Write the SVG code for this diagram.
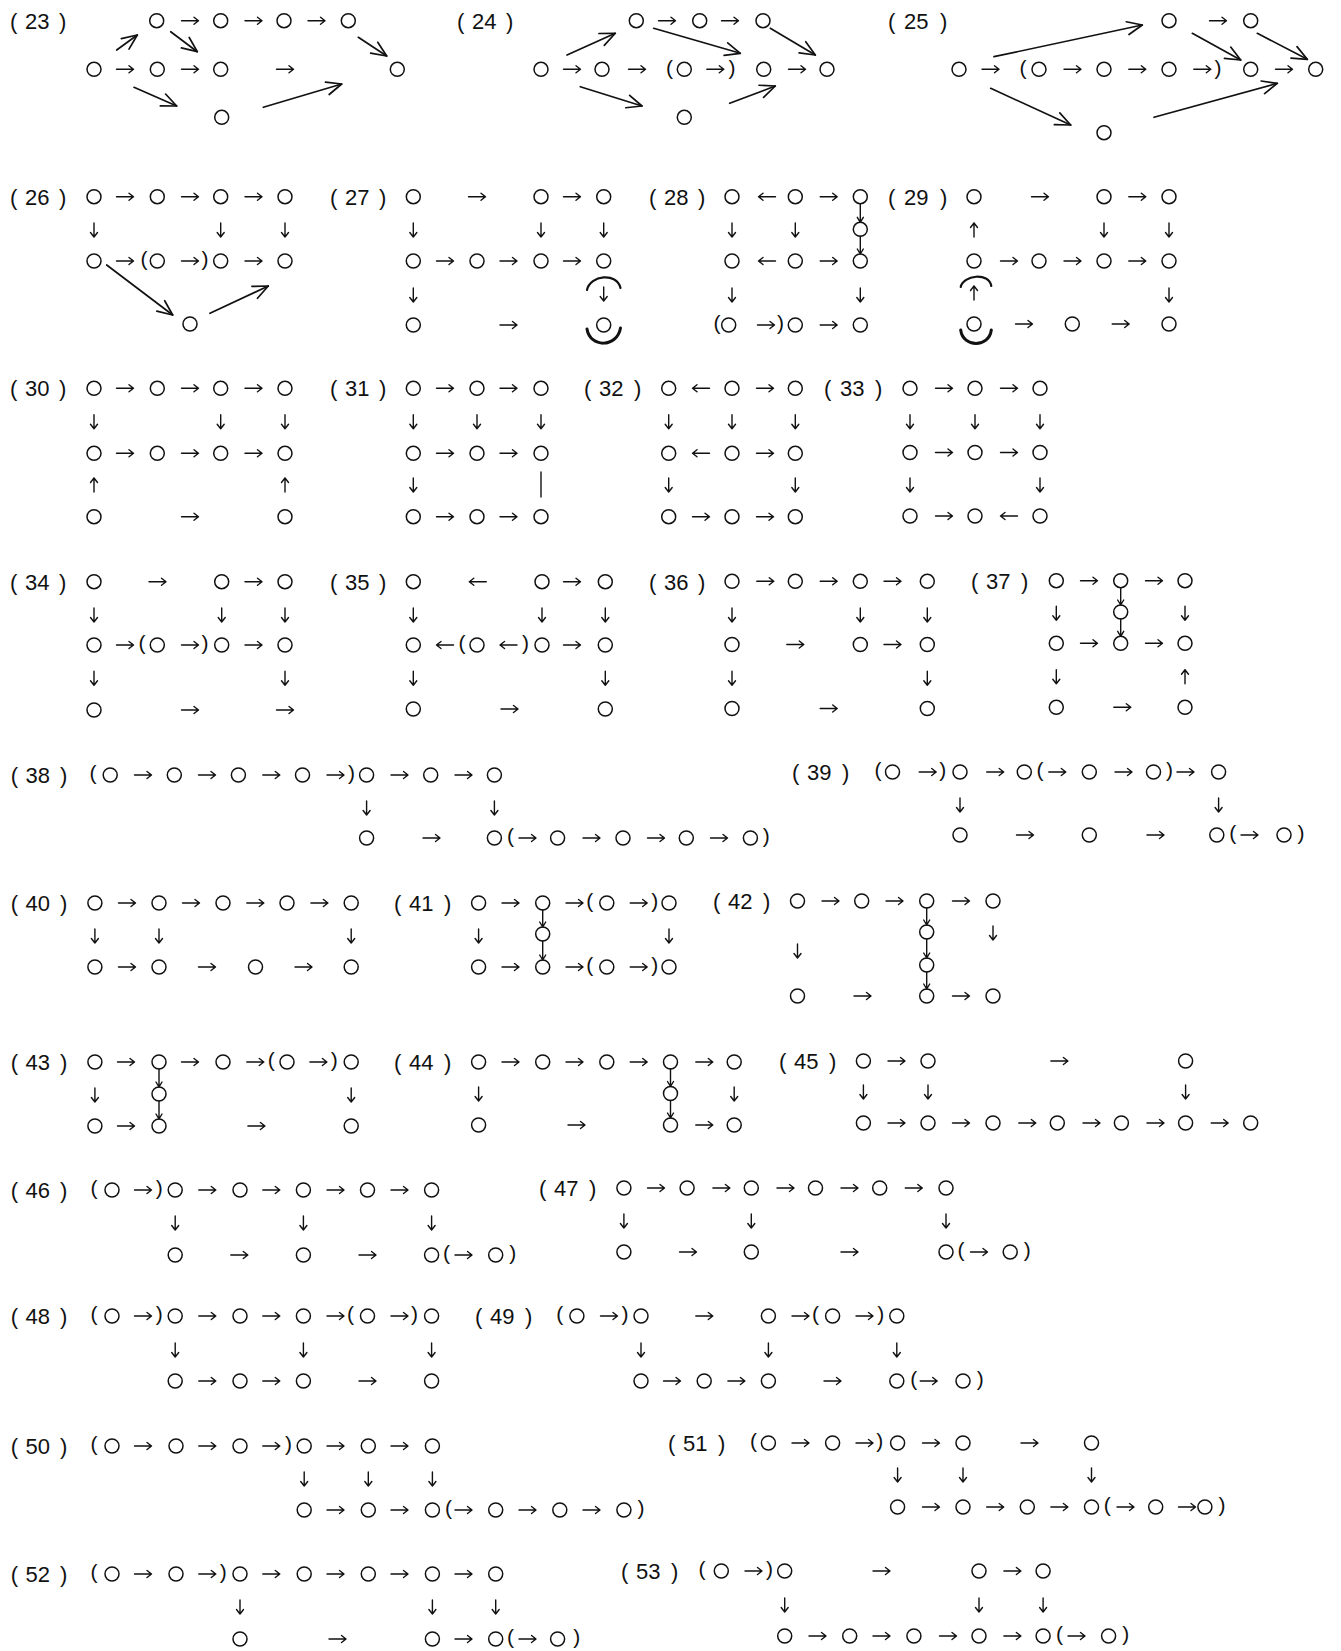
<svg xmlns="http://www.w3.org/2000/svg" width="1341" height="1651" viewBox="0 0 1341 1651">
<style>
text{font-family:"Liberation Sans",Arial,sans-serif;font-size:21px;fill:#111}
.lb{font-size:22px}
.p{text-anchor:middle}
.n{fill:none;stroke:#111;stroke-width:1.5}
.a{fill:none;stroke:#111;stroke-width:1.4;stroke-linecap:round;stroke-linejoin:round}
.lg{fill:none;stroke:#111;stroke-width:1.7;stroke-linecap:round;marker-end:url(#hd)}
.arc{fill:none;stroke:#111;stroke-linecap:round}
</style>
<defs>
<circle id="o" r="7"/>
<path id="r" d="M-8.5,0H8.5M4,-3.5L8.5,0L4,3.5"/>
<path id="l" d="M8.5,0H-8.5M-4,-3.5L-8.5,0L-4,3.5"/>
<path id="d" d="M0,-7V7M-3.5,2.5L0,7L3.5,2.5"/>
<path id="u" d="M0,7V-7M-3.5,-2.5L0,-7L3.5,-2.5"/>
<marker id="hd" markerUnits="userSpaceOnUse" viewBox="-17 -9 19 18" refX="0" refY="0" markerWidth="19" markerHeight="18" orient="auto" overflow="visible">
<path d="M-15,-6.5L0,0L-15,6.5" fill="none" stroke="#111" stroke-width="1.7" stroke-linecap="round" stroke-linejoin="round"/>
</marker>
</defs>
<rect width="1341" height="1651" fill="#fff"/>

<g id="d23">
<text class="lb" y="29"><tspan x="10">(</tspan><tspan x="25">23</tspan><tspan x="59">)</tspan></text>
<g class="n"><use href="#o" x="156.7" y="20.7"/><use href="#o" x="220.7" y="20.7"/><use href="#o" x="284" y="20.7"/><use href="#o" x="348.3" y="20.7"/><use href="#o" x="94" y="69.3"/><use href="#o" x="157.3" y="69.3"/><use href="#o" x="220.7" y="69.3"/><use href="#o" x="397.3" y="69.3"/><use href="#o" x="221.7" y="117.3"/></g>
<g class="a"><use href="#r" x="190" y="20.7"/><use href="#r" x="253.5" y="20.7"/><use href="#r" x="316.5" y="20.7"/><use href="#r" x="125" y="69.3"/><use href="#r" x="190" y="69.3"/><use href="#r" x="285" y="69.3"/></g>
<g class="lg"><path d="M116.7,50L137.3,35"/><path d="M170.7,31.7L197.3,51.7"/><path d="M358.3,37.3L386.7,56"/><path d="M134,87.3L176.7,106"/><path d="M263.3,107.3L341.7,84"/></g>
</g>

<g id="d24">
<text class="lb" y="29"><tspan x="457">(</tspan><tspan x="472">24</tspan><tspan x="506">)</tspan></text>
<g class="n"><use href="#o" x="636.3" y="20.7"/><use href="#o" x="699.7" y="20.7"/><use href="#o" x="763" y="20.7"/><use href="#o" x="541" y="69.3"/><use href="#o" x="602" y="69.3"/><use href="#o" x="684.3" y="69.3"/><use href="#o" x="763.7" y="69.3"/><use href="#o" x="827" y="69.3"/><use href="#o" x="684.3" y="117.3"/></g>
<text class="p" x="669.5" y="74.7">(</text><text class="p" x="732" y="74.7">)</text>
<g class="a"><use href="#r" x="667" y="20.7"/><use href="#r" x="730" y="20.7"/><use href="#r" x="572" y="69.3"/><use href="#r" x="637" y="69.3"/><use href="#r" x="715.3" y="69.3"/><use href="#r" x="797" y="69.3"/></g>
<g class="lg"><path d="M567,55L615.3,33.3"/><path d="M653.7,28.3L740.3,53.3"/><path d="M770.3,28.3L815.3,55"/><path d="M580.3,86.7L642,106"/><path d="M729.7,103.3L775.3,86"/></g>
</g>

<g id="d25">
<text class="lb" y="29"><tspan x="888">(</tspan><tspan x="904">25</tspan><tspan x="940">)</tspan></text>
<g class="n"><use href="#o" x="1169" y="20.7"/><use href="#o" x="1250.7" y="20.7"/><use href="#o" x="959" y="69.3"/><use href="#o" x="1039" y="69.3"/><use href="#o" x="1104" y="69.3"/><use href="#o" x="1169" y="69.3"/><use href="#o" x="1250.7" y="69.3"/><use href="#o" x="1315.7" y="69.3"/><use href="#o" x="1104" y="132.7"/></g>
<text class="p" x="1023" y="74.7">(</text><text class="p" x="1218" y="74.7">)</text>
<g class="a"><use href="#r" x="1218" y="20.7"/><use href="#r" x="990.5" y="69.3"/><use href="#r" x="1072.5" y="69.3"/><use href="#r" x="1137.3" y="69.3"/><use href="#r" x="1202.3" y="69.3"/><use href="#r" x="1284" y="69.3"/></g>
<g class="lg"><path d="M994,56.7L1142.3,25"/><path d="M1192.3,33.3L1240.7,60"/><path d="M1257.3,33.3L1307.3,59.3"/><path d="M990.7,88.3L1070.7,125"/><path d="M1154,117.3L1277.3,83.3"/></g>
</g>

<g id="d26">
<text class="lb" y="204.7"><tspan x="10">(</tspan><tspan x="25">26</tspan><tspan x="59">)</tspan></text>
<g class="n"><use href="#o" x="94" y="196.7"/><use href="#o" x="157.3" y="196.7"/><use href="#o" x="220.7" y="196.7"/><use href="#o" x="285" y="196.7"/><use href="#o" x="94" y="261"/><use href="#o" x="157.3" y="261"/><use href="#o" x="220.7" y="261"/><use href="#o" x="285" y="261"/><use href="#o" x="190" y="324"/></g>
<text class="p" x="144" y="266.4">(</text><text class="p" x="205" y="266.4">)</text>
<g class="a"><use href="#r" x="125" y="196.7"/><use href="#r" x="190" y="196.7"/><use href="#r" x="253.5" y="196.7"/><use href="#d" x="94" y="230"/><use href="#d" x="220.7" y="230"/><use href="#d" x="285" y="230"/><use href="#r" x="125" y="261"/><use href="#r" x="190" y="261"/><use href="#r" x="253.5" y="261"/></g>
<g class="lg"><path d="M106.7,265L172.7,315"/><path d="M210,313.3L268.3,286"/></g>
</g>

<g id="d27">
<text class="lb" y="204.7"><tspan x="330">(</tspan><tspan x="345">27</tspan><tspan x="379">)</tspan></text>
<g class="n"><use href="#o" x="413.3" y="196.7"/><use href="#o" x="541" y="196.7"/><use href="#o" x="603.7" y="196.7"/><use href="#o" x="413.3" y="261"/><use href="#o" x="477" y="261"/><use href="#o" x="541" y="261"/><use href="#o" x="603.7" y="261"/><use href="#o" x="413.3" y="325"/><use href="#o" x="603.7" y="325"/></g>
<g class="a"><use href="#r" x="477" y="196.7"/><use href="#r" x="572" y="196.7"/><use href="#d" x="413.3" y="230"/><use href="#d" x="541" y="230"/><use href="#d" x="603.7" y="230"/><use href="#r" x="445" y="261"/><use href="#r" x="508.5" y="261"/><use href="#r" x="572" y="261"/><use href="#d" x="413.3" y="295"/><use href="#d" x="603.7" y="294"/><use href="#r" x="508.5" y="325"/></g>
<path class="arc" stroke-width="2.2" d="M587,290C590,275 617,272 620.5,288"/>
<path class="arc" stroke-width="3" d="M587,329C590,348 617,348 620.5,328"/>
</g>

<g id="d28">
<text class="lb" y="204.7"><tspan x="649">(</tspan><tspan x="664">28</tspan><tspan x="698">)</tspan></text>
<g class="n"><use href="#o" x="732" y="196.7"/><use href="#o" x="795.3" y="196.7"/><use href="#o" x="860.3" y="196.7"/><use href="#o" x="860.3" y="229.3"/><use href="#o" x="732" y="261"/><use href="#o" x="795.3" y="261"/><use href="#o" x="860.3" y="261"/><use href="#o" x="728.7" y="325"/><use href="#o" x="795.3" y="325"/><use href="#o" x="860.3" y="325"/></g>
<text class="p" x="717" y="330.4">(</text><text class="p" x="780.5" y="330.4">)</text>
<g class="a"><use href="#l" x="767" y="196.7"/><use href="#r" x="828.7" y="196.7"/><use href="#d" x="732" y="230"/><use href="#d" x="795.3" y="230"/><path d="M860.3,203.7V222.3M857.3,217.3L860.3,222.3L863.3,217.3"/><path d="M860.3,236.3V254M857.3,249L860.3,254L863.3,249"/><use href="#l" x="767" y="261"/><use href="#r" x="828.7" y="261"/><use href="#d" x="732" y="295"/><use href="#d" x="860.3" y="295"/><use href="#r" x="766" y="325"/><use href="#r" x="828.7" y="325"/></g>
</g>

<g id="d29">
<text class="lb" y="204.7"><tspan x="888">(</tspan><tspan x="904">29</tspan><tspan x="940">)</tspan></text>
<g class="n"><use href="#o" x="974" y="196.7"/><use href="#o" x="1104" y="196.7"/><use href="#o" x="1169" y="196.7"/><use href="#o" x="974" y="261"/><use href="#o" x="1039" y="261"/><use href="#o" x="1104" y="261"/><use href="#o" x="1169" y="261"/><use href="#o" x="974" y="324"/><use href="#o" x="1072.3" y="324"/><use href="#o" x="1169" y="324"/></g>
<g class="a"><use href="#r" x="1040" y="196.7"/><use href="#r" x="1137.3" y="196.7"/><use href="#u" x="974" y="230"/><use href="#d" x="1104" y="230"/><use href="#d" x="1169" y="230"/><use href="#r" x="1009" y="261"/><use href="#r" x="1072.5" y="261"/><use href="#r" x="1137.3" y="261"/><use href="#u" x="974" y="293"/><use href="#d" x="1169" y="295"/><use href="#r" x="1024" y="324"/><use href="#r" x="1120.7" y="324"/></g>
<path class="arc" stroke-width="2.2" d="M960.7,287C963,275 989,272 991.3,286"/>
<path class="arc" stroke-width="3" d="M960.7,330C963,348 989,348 991.3,330"/>
</g>

<g id="d30">
<text class="lb" y="396.3"><tspan x="10">(</tspan><tspan x="25">30</tspan><tspan x="59">)</tspan></text>
<g class="n"><use href="#o" x="94" y="388.3"/><use href="#o" x="157.3" y="388.3"/><use href="#o" x="220.7" y="388.3"/><use href="#o" x="285" y="388.3"/><use href="#o" x="94" y="453.3"/><use href="#o" x="157.3" y="453.3"/><use href="#o" x="220.7" y="453.3"/><use href="#o" x="285" y="453.3"/><use href="#o" x="94" y="516.7"/><use href="#o" x="285" y="516.7"/></g>
<g class="a"><use href="#r" x="125" y="388.3"/><use href="#r" x="190" y="388.3"/><use href="#r" x="253.5" y="388.3"/><use href="#d" x="94" y="421.7"/><use href="#d" x="220.7" y="421.7"/><use href="#d" x="285" y="421.7"/><use href="#r" x="125" y="453.3"/><use href="#r" x="190" y="453.3"/><use href="#r" x="253.5" y="453.3"/><use href="#u" x="94" y="485"/><use href="#u" x="285" y="485"/><use href="#r" x="190" y="516.7"/></g>
</g>

<g id="d31">
<text class="lb" y="396.3"><tspan x="330">(</tspan><tspan x="345">31</tspan><tspan x="379">)</tspan></text>
<g class="n"><use href="#o" x="413.3" y="388.3"/><use href="#o" x="477" y="388.3"/><use href="#o" x="541" y="388.3"/><use href="#o" x="413.3" y="453.3"/><use href="#o" x="477" y="453.3"/><use href="#o" x="541" y="453.3"/><use href="#o" x="413.3" y="516.7"/><use href="#o" x="477" y="516.7"/><use href="#o" x="541" y="516.7"/></g>
<g class="a"><use href="#r" x="445" y="388.3"/><use href="#r" x="508.5" y="388.3"/><use href="#d" x="413.3" y="421.7"/><use href="#d" x="477" y="421.7"/><use href="#d" x="541" y="421.7"/><use href="#r" x="445" y="453.3"/><use href="#r" x="508.5" y="453.3"/><use href="#d" x="413.3" y="485"/><path d="M541,472V497"/><use href="#r" x="445" y="516.7"/><use href="#r" x="508.5" y="516.7"/></g>
</g>

<g id="d32">
<text class="lb" y="396.3"><tspan x="584">(</tspan><tspan x="599">32</tspan><tspan x="634">)</tspan></text>
<g class="n"><use href="#o" x="668.7" y="388.3"/><use href="#o" x="732" y="388.3"/><use href="#o" x="795.3" y="388.3"/><use href="#o" x="668.7" y="453.3"/><use href="#o" x="732" y="453.3"/><use href="#o" x="795.3" y="453.3"/><use href="#o" x="668.7" y="516.7"/><use href="#o" x="732" y="516.7"/><use href="#o" x="795.3" y="516.7"/></g>
<g class="a"><use href="#l" x="701" y="388.3"/><use href="#r" x="765" y="388.3"/><use href="#d" x="668.7" y="421.7"/><use href="#d" x="732" y="421.7"/><use href="#d" x="795.3" y="421.7"/><use href="#l" x="701" y="453.3"/><use href="#r" x="765" y="453.3"/><use href="#d" x="668.7" y="485"/><use href="#d" x="795.3" y="485"/><use href="#r" x="701" y="516.7"/><use href="#r" x="765" y="516.7"/></g>
</g>

<g id="d33">
<text class="lb" y="396.3"><tspan x="824">(</tspan><tspan x="840">33</tspan><tspan x="875">)</tspan></text>
<g class="n"><use href="#o" x="910" y="388.3"/><use href="#o" x="975" y="388.3"/><use href="#o" x="1040" y="388.3"/><use href="#o" x="910" y="452.5"/><use href="#o" x="975" y="452.5"/><use href="#o" x="1040" y="452.5"/><use href="#o" x="910" y="516"/><use href="#o" x="975" y="516"/><use href="#o" x="1040" y="516"/></g>
<g class="a"><use href="#r" x="944" y="388.3"/><use href="#r" x="1009" y="388.3"/><use href="#d" x="910" y="421.7"/><use href="#d" x="975" y="421.7"/><use href="#d" x="1040" y="421.7"/><use href="#r" x="944" y="452.5"/><use href="#r" x="1009" y="452.5"/><use href="#d" x="910" y="485"/><use href="#d" x="1040" y="485"/><use href="#r" x="944" y="516"/><use href="#l" x="1009" y="516"/></g>
</g>

<g id="d34">
<text class="lb" y="589.5"><tspan x="10">(</tspan><tspan x="25">34</tspan><tspan x="59">)</tspan></text>
<g class="n"><use href="#o" x="94" y="581.7"/><use href="#o" x="221.7" y="581.7"/><use href="#o" x="285" y="581.7"/><use href="#o" x="94" y="645"/><use href="#o" x="157.3" y="645"/><use href="#o" x="221.7" y="645"/><use href="#o" x="285" y="645"/><use href="#o" x="94" y="710"/></g>
<text class="p" x="142" y="650.4">(</text><text class="p" x="205" y="650.4">)</text>
<g class="a"><use href="#r" x="157.5" y="581.7"/><use href="#r" x="253.5" y="581.7"/><use href="#d" x="94" y="615"/><use href="#d" x="221.7" y="615"/><use href="#d" x="285" y="615"/><use href="#r" x="125" y="645"/><use href="#r" x="190" y="645"/><use href="#r" x="253.5" y="645"/><use href="#d" x="94" y="678.3"/><use href="#d" x="285" y="678.3"/><use href="#r" x="190" y="710"/><use href="#r" x="285" y="710"/></g>
</g>

<g id="d35">
<text class="lb" y="589.5"><tspan x="330">(</tspan><tspan x="345">35</tspan><tspan x="379">)</tspan></text>
<g class="n"><use href="#o" x="413.3" y="581.7"/><use href="#o" x="542" y="581.7"/><use href="#o" x="605.3" y="581.7"/><use href="#o" x="413.3" y="645"/><use href="#o" x="477" y="645"/><use href="#o" x="542" y="645"/><use href="#o" x="605.3" y="645"/><use href="#o" x="413.3" y="709"/><use href="#o" x="605.3" y="709"/></g>
<text class="p" x="462" y="650.4">(</text><text class="p" x="525.5" y="650.4">)</text>
<g class="a"><use href="#l" x="477.8" y="581.7"/><use href="#r" x="572" y="581.7"/><use href="#d" x="413.3" y="615"/><use href="#d" x="542" y="615"/><use href="#d" x="605.3" y="615"/><use href="#l" x="445" y="645"/><use href="#l" x="508.5" y="645"/><use href="#r" x="572" y="645"/><use href="#d" x="413.3" y="678.3"/><use href="#d" x="605.3" y="678.3"/><use href="#r" x="509.5" y="709"/></g>
</g>

<g id="d36">
<text class="lb" y="589.5"><tspan x="649">(</tspan><tspan x="664">36</tspan><tspan x="698">)</tspan></text>
<g class="n"><use href="#o" x="732" y="581.3"/><use href="#o" x="795.3" y="581.3"/><use href="#o" x="860.3" y="581.3"/><use href="#o" x="927.3" y="581.3"/><use href="#o" x="732" y="644.5"/><use href="#o" x="860.3" y="644.5"/><use href="#o" x="927.3" y="644.5"/><use href="#o" x="732" y="708.5"/><use href="#o" x="927.3" y="708.5"/></g>
<g class="a"><use href="#r" x="765.3" y="581.3"/><use href="#r" x="828.7" y="581.3"/><use href="#r" x="892.5" y="581.3"/><use href="#d" x="732" y="615"/><use href="#d" x="860.3" y="615"/><use href="#d" x="927.3" y="615"/><use href="#r" x="795.3" y="644.5"/><use href="#r" x="892.5" y="644.5"/><use href="#d" x="732" y="678.3"/><use href="#d" x="927.3" y="678.3"/><use href="#r" x="828.7" y="708.5"/></g>
</g>

<g id="d37">
<text class="lb" y="589"><tspan x="971">(</tspan><tspan x="986">37</tspan><tspan x="1021">)</tspan></text>
<g class="n"><use href="#o" x="1056.3" y="580.7"/><use href="#o" x="1120.7" y="580.7"/><use href="#o" x="1185" y="580.7"/><use href="#o" x="1120.7" y="612"/><use href="#o" x="1056.3" y="643.3"/><use href="#o" x="1120.7" y="643.3"/><use href="#o" x="1185" y="643.3"/><use href="#o" x="1056.3" y="707.3"/><use href="#o" x="1185" y="707.3"/></g>
<g class="a"><use href="#r" x="1089" y="580.7"/><use href="#r" x="1154" y="580.7"/><use href="#d" x="1056.3" y="613.3"/><use href="#d" x="1185" y="613.3"/><path d="M1120.7,587.7V605M1117.7,600L1120.7,605L1123.7,600"/><path d="M1120.7,619V636.3M1117.7,631.3L1120.7,636.3L1123.7,631.3"/><use href="#r" x="1089" y="643.3"/><use href="#r" x="1154" y="643.3"/><use href="#d" x="1056.3" y="676.7"/><use href="#u" x="1185" y="676.7"/><use href="#r" x="1122.3" y="707.3"/></g>
</g>

<g id="d38">
<text class="lb" y="783"><tspan x="10.7">(</tspan><tspan x="25.5">38</tspan><tspan x="60">)</tspan></text>
<g class="n"><use href="#o" x="110.2" y="775"/><use href="#o" x="174.3" y="775"/><use href="#o" x="238.4" y="775"/><use href="#o" x="302.5" y="775"/><use href="#o" x="366.6" y="775"/><use href="#o" x="430.7" y="775"/><use href="#o" x="494.4" y="775"/><use href="#o" x="366.6" y="838"/><use href="#o" x="494.4" y="838"/><use href="#o" x="557.6" y="838"/><use href="#o" x="623" y="838"/><use href="#o" x="686.3" y="838"/><use href="#o" x="750.4" y="838"/></g>
<text class="p" x="93" y="780.4">(</text><text class="p" x="351.5" y="780.4">)</text><text class="p" x="510.5" y="843.4">(</text><text class="p" x="766.3" y="843.4">)</text>
<g class="a"><use href="#r" x="143" y="775"/><use href="#r" x="207" y="775"/><use href="#r" x="271.3" y="775"/><use href="#r" x="335.5" y="775"/><use href="#r" x="399.5" y="775"/><use href="#r" x="463.5" y="775"/><use href="#d" x="366.6" y="808"/><use href="#d" x="494.4" y="808"/><use href="#r" x="431.5" y="838"/><use href="#r" x="527.5" y="838"/><use href="#r" x="591.5" y="838"/><use href="#r" x="656" y="838"/><use href="#r" x="719" y="838"/></g>
</g>

<g id="d39">
<text class="lb" y="780"><tspan x="792">(</tspan><tspan x="807">39</tspan><tspan x="842">)</tspan></text>
<g class="n"><use href="#o" x="892.5" y="772"/><use href="#o" x="960" y="772"/><use href="#o" x="1024.3" y="772"/><use href="#o" x="1089.3" y="772"/><use href="#o" x="1153.5" y="772"/><use href="#o" x="1218.6" y="772"/><use href="#o" x="960" y="835"/><use href="#o" x="1089.3" y="835"/><use href="#o" x="1216.8" y="835"/><use href="#o" x="1284" y="835"/></g>
<text class="p" x="878" y="777.4">(</text><text class="p" x="942.8" y="777.4">)</text><text class="p" x="1040" y="777.4">(</text><text class="p" x="1169.6" y="777.4">)</text><text class="p" x="1232.7" y="840.4">(</text><text class="p" x="1301" y="840.4">)</text>
<g class="a"><use href="#r" x="927.7" y="772"/><use href="#r" x="995.2" y="772"/><use href="#r" x="1057.3" y="772"/><use href="#r" x="1123.5" y="772"/><use href="#r" x="1185.5" y="772"/><use href="#d" x="960" y="805"/><use href="#d" x="1218.6" y="805"/><use href="#r" x="1025" y="835"/><use href="#r" x="1155.5" y="835"/><use href="#r" x="1249.5" y="835"/></g>
</g>

<g id="d40">
<text class="lb" y="911"><tspan x="10.7">(</tspan><tspan x="25.5">40</tspan><tspan x="60">)</tspan></text>
<g class="n"><use href="#o" x="94.9" y="903"/><use href="#o" x="159" y="903"/><use href="#o" x="223" y="903"/><use href="#o" x="287" y="903"/><use href="#o" x="351.2" y="903"/><use href="#o" x="94.9" y="967"/><use href="#o" x="159" y="967"/><use href="#o" x="255.5" y="967"/><use href="#o" x="351.2" y="967"/></g>
<g class="a"><use href="#r" x="127" y="903"/><use href="#r" x="191" y="903"/><use href="#r" x="255.3" y="903"/><use href="#r" x="319.4" y="903"/><use href="#d" x="94.9" y="936"/><use href="#d" x="159" y="936"/><use href="#d" x="351.2" y="936"/><use href="#r" x="127" y="967"/><use href="#r" x="207" y="967"/><use href="#r" x="303.5" y="967"/></g>
</g>

<g id="d41">
<text class="lb" y="911"><tspan x="394">(</tspan><tspan x="409">41</tspan><tspan x="444">)</tspan></text>
<g class="n"><use href="#o" x="478.6" y="903"/><use href="#o" x="542.7" y="903"/><use href="#o" x="606.8" y="903"/><use href="#o" x="669" y="903"/><use href="#o" x="542.7" y="934"/><use href="#o" x="478.6" y="967"/><use href="#o" x="542.7" y="967"/><use href="#o" x="606.8" y="967"/><use href="#o" x="669" y="967"/></g>
<text class="p" x="589.7" y="908.4">(</text><text class="p" x="654.8" y="908.4">)</text><text class="p" x="589.7" y="972.4">(</text><text class="p" x="654.8" y="972.4">)</text>
<g class="a"><use href="#r" x="510.5" y="903"/><use href="#r" x="574.5" y="903"/><use href="#r" x="638.7" y="903"/><path d="M542.7,910V927M539.7,922L542.7,927L545.7,922"/><path d="M542.7,941V960M539.7,955L542.7,960L545.7,955"/><use href="#d" x="478.6" y="936"/><use href="#d" x="669" y="936"/><use href="#r" x="510.5" y="967"/><use href="#r" x="574.5" y="967"/><use href="#r" x="638.7" y="967"/></g>
</g>

<g id="d42">
<text class="lb" y="909"><tspan x="713">(</tspan><tspan x="728">42</tspan><tspan x="763">)</tspan></text>
<g class="n"><use href="#o" x="797.5" y="901"/><use href="#o" x="861.7" y="901"/><use href="#o" x="926.7" y="901"/><use href="#o" x="993" y="901"/><use href="#o" x="926.7" y="932"/><use href="#o" x="926.7" y="965"/><use href="#o" x="797.5" y="996"/><use href="#o" x="926.7" y="996"/><use href="#o" x="993" y="996"/></g>
<g class="a"><use href="#r" x="830.5" y="901"/><use href="#r" x="894.5" y="901"/><use href="#r" x="961" y="901"/><path d="M926.7,908V925M923.7,920L926.7,925L929.7,920"/><path d="M926.7,939V958M923.7,953L926.7,958L929.7,953"/><path d="M926.7,972V989M923.7,984L926.7,989L929.7,984"/><use href="#d" x="993" y="933"/><use href="#d" x="797.5" y="951"/><use href="#r" x="862.5" y="996"/><use href="#r" x="961" y="996"/></g>
</g>

<g id="d43">
<text class="lb" y="1070"><tspan x="10.7">(</tspan><tspan x="25.5">43</tspan><tspan x="60">)</tspan></text>
<g class="n"><use href="#o" x="94.9" y="1062"/><use href="#o" x="159" y="1062"/><use href="#o" x="223" y="1062"/><use href="#o" x="287" y="1062"/><use href="#o" x="351.2" y="1062"/><use href="#o" x="159" y="1094"/><use href="#o" x="94.9" y="1126"/><use href="#o" x="159" y="1126"/><use href="#o" x="351.2" y="1126"/></g>
<text class="p" x="271.3" y="1067.4">(</text><text class="p" x="334.3" y="1067.4">)</text>
<g class="a"><use href="#r" x="126" y="1062"/><use href="#r" x="190" y="1062"/><use href="#r" x="255.3" y="1062"/><use href="#r" x="318.4" y="1062"/><path d="M159,1069V1087M156,1082L159,1087L162,1082"/><path d="M159,1101V1119M156,1114L159,1119L162,1114"/><use href="#d" x="94.9" y="1095"/><use href="#d" x="351.2" y="1095"/><use href="#r" x="126" y="1126"/><use href="#r" x="256.4" y="1126"/></g>
</g>

<g id="d44">
<text class="lb" y="1070"><tspan x="394">(</tspan><tspan x="409">44</tspan><tspan x="444">)</tspan></text>
<g class="n"><use href="#o" x="478.6" y="1062"/><use href="#o" x="542.7" y="1062"/><use href="#o" x="606.8" y="1062"/><use href="#o" x="670.5" y="1062"/><use href="#o" x="734.2" y="1062"/><use href="#o" x="670.5" y="1093.5"/><use href="#o" x="478.6" y="1125"/><use href="#o" x="670.5" y="1125"/><use href="#o" x="734.2" y="1125"/></g>
<g class="a"><use href="#r" x="510.5" y="1062"/><use href="#r" x="574.5" y="1062"/><use href="#r" x="638.7" y="1062"/><use href="#r" x="704.3" y="1062"/><path d="M670.5,1069V1086.5M667.5,1081.5L670.5,1086.5L673.5,1081.5"/><path d="M670.5,1100.5V1118M667.5,1113L670.5,1118L673.5,1113"/><use href="#d" x="478.6" y="1094"/><use href="#d" x="734.2" y="1094"/><use href="#r" x="576.5" y="1125"/><use href="#r" x="704.3" y="1125"/></g>
</g>

<g id="d45">
<text class="lb" y="1069"><tspan x="779">(</tspan><tspan x="794">45</tspan><tspan x="829">)</tspan></text>
<g class="n"><use href="#o" x="863.4" y="1061"/><use href="#o" x="928" y="1061"/><use href="#o" x="1185.6" y="1061"/><use href="#o" x="863.4" y="1123"/><use href="#o" x="928" y="1123"/><use href="#o" x="993" y="1123"/><use href="#o" x="1057.3" y="1123"/><use href="#o" x="1121.4" y="1123"/><use href="#o" x="1185.6" y="1123"/><use href="#o" x="1250.7" y="1123"/></g>
<g class="a"><use href="#r" x="896.5" y="1061"/><use href="#r" x="1059.4" y="1061"/><use href="#d" x="863.4" y="1092"/><use href="#d" x="928" y="1092"/><use href="#d" x="1185.6" y="1092"/><use href="#r" x="896.5" y="1123"/><use href="#r" x="961" y="1123"/><use href="#r" x="1027.3" y="1123"/><use href="#r" x="1091.5" y="1123"/><use href="#r" x="1155.5" y="1123"/><use href="#r" x="1219.7" y="1123"/></g>
</g>

<g id="d46">
<text class="lb" y="1198"><tspan x="10.7">(</tspan><tspan x="25.5">46</tspan><tspan x="60">)</tspan></text>
<g class="n"><use href="#o" x="112" y="1190"/><use href="#o" x="175.2" y="1190"/><use href="#o" x="240" y="1190"/><use href="#o" x="303.4" y="1190"/><use href="#o" x="367.5" y="1190"/><use href="#o" x="431.6" y="1190"/><use href="#o" x="175.2" y="1255"/><use href="#o" x="303.4" y="1255"/><use href="#o" x="431.6" y="1255"/><use href="#o" x="495.7" y="1255"/></g>
<text class="p" x="94" y="1195.4">(</text><text class="p" x="159.2" y="1195.4">)</text><text class="p" x="446.4" y="1260.4">(</text><text class="p" x="512.8" y="1260.4">)</text>
<g class="a"><use href="#r" x="143" y="1190"/><use href="#r" x="207.3" y="1190"/><use href="#r" x="271.3" y="1190"/><use href="#r" x="335.5" y="1190"/><use href="#r" x="399.5" y="1190"/><use href="#d" x="175.2" y="1223"/><use href="#d" x="303.4" y="1223"/><use href="#d" x="431.6" y="1223"/><use href="#r" x="239.3" y="1255"/><use href="#r" x="367.5" y="1255"/><use href="#r" x="463.5" y="1255"/></g>
</g>

<g id="d47">
<text class="lb" y="1196"><tspan x="539">(</tspan><tspan x="554">47</tspan><tspan x="589">)</tspan></text>
<g class="n"><use href="#o" x="623.9" y="1188"/><use href="#o" x="687.1" y="1188"/><use href="#o" x="751.3" y="1188"/><use href="#o" x="815.5" y="1188"/><use href="#o" x="879.7" y="1188"/><use href="#o" x="946" y="1188"/><use href="#o" x="623.9" y="1252"/><use href="#o" x="751.3" y="1252"/><use href="#o" x="946" y="1252"/><use href="#o" x="1010.2" y="1252"/></g>
<text class="p" x="961" y="1257.4">(</text><text class="p" x="1027.3" y="1257.4">)</text>
<g class="a"><use href="#r" x="656" y="1188"/><use href="#r" x="721.4" y="1188"/><use href="#r" x="785.5" y="1188"/><use href="#r" x="849.5" y="1188"/><use href="#r" x="913.8" y="1188"/><use href="#d" x="623.9" y="1221"/><use href="#d" x="751.3" y="1221"/><use href="#d" x="946" y="1221"/><use href="#r" x="688" y="1252"/><use href="#r" x="849.5" y="1252"/><use href="#r" x="979" y="1252"/></g>
</g>

<g id="d48">
<text class="lb" y="1324"><tspan x="10.7">(</tspan><tspan x="25.5">48</tspan><tspan x="60">)</tspan></text>
<g class="n"><use href="#o" x="112" y="1316"/><use href="#o" x="175.2" y="1316"/><use href="#o" x="240" y="1316"/><use href="#o" x="303.4" y="1316"/><use href="#o" x="367.5" y="1316"/><use href="#o" x="431.6" y="1316"/><use href="#o" x="175.2" y="1381"/><use href="#o" x="240" y="1381"/><use href="#o" x="303.4" y="1381"/><use href="#o" x="431.6" y="1381"/></g>
<text class="p" x="94" y="1321.4">(</text><text class="p" x="159.2" y="1321.4">)</text><text class="p" x="350.4" y="1321.4">(</text><text class="p" x="414.4" y="1321.4">)</text>
<g class="a"><use href="#r" x="143" y="1316"/><use href="#r" x="207.3" y="1316"/><use href="#r" x="271.3" y="1316"/><use href="#r" x="335.5" y="1316"/><use href="#r" x="399.5" y="1316"/><use href="#d" x="175.2" y="1350"/><use href="#d" x="303.4" y="1350"/><use href="#d" x="431.6" y="1350"/><use href="#r" x="207.3" y="1381"/><use href="#r" x="271.3" y="1381"/><use href="#r" x="367.5" y="1381"/></g>
</g>

<g id="d49">
<text class="lb" y="1324"><tspan x="475">(</tspan><tspan x="490">49</tspan><tspan x="525">)</tspan></text>
<g class="n"><use href="#o" x="576.9" y="1316"/><use href="#o" x="641" y="1316"/><use href="#o" x="768.4" y="1316"/><use href="#o" x="832.6" y="1316"/><use href="#o" x="896.8" y="1316"/><use href="#o" x="641" y="1381"/><use href="#o" x="704.2" y="1381"/><use href="#o" x="768.4" y="1381"/><use href="#o" x="896.8" y="1381"/><use href="#o" x="963" y="1381"/></g>
<text class="p" x="559.8" y="1321.4">(</text><text class="p" x="624.9" y="1321.4">)</text><text class="p" x="815.4" y="1321.4">(</text><text class="p" x="880.8" y="1321.4">)</text><text class="p" x="913.8" y="1386.4">(</text><text class="p" x="980.3" y="1386.4">)</text>
<g class="a"><use href="#r" x="609" y="1316"/><use href="#r" x="704.3" y="1316"/><use href="#r" x="800.5" y="1316"/><use href="#r" x="864.5" y="1316"/><use href="#d" x="641" y="1350"/><use href="#d" x="768.4" y="1350"/><use href="#d" x="896.8" y="1350"/><use href="#r" x="672" y="1381"/><use href="#r" x="736.4" y="1381"/><use href="#r" x="832.5" y="1381"/><use href="#r" x="928.7" y="1381"/></g>
</g>

<g id="d50">
<text class="lb" y="1454"><tspan x="10.7">(</tspan><tspan x="25.5">50</tspan><tspan x="60">)</tspan></text>
<g class="n"><use href="#o" x="112" y="1446"/><use href="#o" x="176" y="1446"/><use href="#o" x="240" y="1446"/><use href="#o" x="304.2" y="1446"/><use href="#o" x="368.3" y="1446"/><use href="#o" x="432.4" y="1446"/><use href="#o" x="304.2" y="1510"/><use href="#o" x="368.3" y="1510"/><use href="#o" x="432.4" y="1510"/><use href="#o" x="495.7" y="1510"/><use href="#o" x="559.8" y="1510"/><use href="#o" x="623.9" y="1510"/></g>
<text class="p" x="94" y="1451.4">(</text><text class="p" x="288.4" y="1451.4">)</text><text class="p" x="448.5" y="1515.4">(</text><text class="p" x="641" y="1515.4">)</text>
<g class="a"><use href="#r" x="143" y="1446"/><use href="#r" x="207.3" y="1446"/><use href="#r" x="271.3" y="1446"/><use href="#r" x="335.5" y="1446"/><use href="#r" x="399.5" y="1446"/><use href="#d" x="304.2" y="1479"/><use href="#d" x="368.3" y="1479"/><use href="#d" x="432.4" y="1479"/><use href="#r" x="335.5" y="1510"/><use href="#r" x="399.5" y="1510"/><use href="#r" x="463.5" y="1510"/><use href="#r" x="527.5" y="1510"/><use href="#r" x="591.5" y="1510"/></g>
</g>

<g id="d51">
<text class="lb" y="1451"><tspan x="668">(</tspan><tspan x="683">51</tspan><tspan x="718">)</tspan></text>
<g class="n"><use href="#o" x="768.4" y="1443"/><use href="#o" x="832.6" y="1443"/><use href="#o" x="897.6" y="1443"/><use href="#o" x="963" y="1443"/><use href="#o" x="1091.5" y="1443"/><use href="#o" x="897.6" y="1507"/><use href="#o" x="963" y="1507"/><use href="#o" x="1027.3" y="1507"/><use href="#o" x="1091.5" y="1507"/><use href="#o" x="1155.7" y="1507"/><use href="#o" x="1204.9" y="1507"/></g>
<text class="p" x="753.4" y="1448.4">(</text><text class="p" x="879.7" y="1448.4">)</text><text class="p" x="1107.3" y="1512.4">(</text><text class="p" x="1222" y="1512.4">)</text>
<g class="a"><use href="#r" x="800.5" y="1443"/><use href="#r" x="864.5" y="1443"/><use href="#r" x="931" y="1443"/><use href="#r" x="1029.5" y="1443"/><use href="#d" x="897.6" y="1475"/><use href="#d" x="963" y="1475"/><use href="#d" x="1091.5" y="1475"/><use href="#r" x="931" y="1507"/><use href="#r" x="995.2" y="1507"/><use href="#r" x="1059.4" y="1507"/><use href="#r" x="1125.5" y="1507"/><use href="#r" x="1187" y="1507"/></g>
</g>

<g id="d52">
<text class="lb" y="1582"><tspan x="10.7">(</tspan><tspan x="25.5">52</tspan><tspan x="60">)</tspan></text>
<g class="n"><use href="#o" x="112" y="1574"/><use href="#o" x="176" y="1574"/><use href="#o" x="240" y="1574"/><use href="#o" x="304.2" y="1574"/><use href="#o" x="368.3" y="1574"/><use href="#o" x="432.4" y="1574"/><use href="#o" x="495.7" y="1574"/><use href="#o" x="240" y="1639"/><use href="#o" x="432.4" y="1639"/><use href="#o" x="495.7" y="1639"/><use href="#o" x="557.6" y="1639"/></g>
<text class="p" x="94" y="1579.4">(</text><text class="p" x="223.3" y="1579.4">)</text><text class="p" x="510.5" y="1644.4">(</text><text class="p" x="576.8" y="1644.4">)</text>
<g class="a"><use href="#r" x="143" y="1574"/><use href="#r" x="207.3" y="1574"/><use href="#r" x="271.3" y="1574"/><use href="#r" x="335.5" y="1574"/><use href="#r" x="399.5" y="1574"/><use href="#r" x="463.5" y="1574"/><use href="#d" x="240" y="1607"/><use href="#d" x="432.4" y="1607"/><use href="#d" x="495.7" y="1607"/><use href="#r" x="337.5" y="1639"/><use href="#r" x="463.5" y="1639"/><use href="#r" x="527.5" y="1639"/></g>
</g>

<g id="d53">
<text class="lb" y="1579"><tspan x="621">(</tspan><tspan x="636">53</tspan><tspan x="671">)</tspan></text>
<g class="n"><use href="#o" x="721.3" y="1571"/><use href="#o" x="784.7" y="1571"/><use href="#o" x="979" y="1571"/><use href="#o" x="1043.1" y="1571"/><use href="#o" x="784.7" y="1636"/><use href="#o" x="849.7" y="1636"/><use href="#o" x="913.9" y="1636"/><use href="#o" x="979" y="1636"/><use href="#o" x="1043.1" y="1636"/><use href="#o" x="1108.6" y="1636"/></g>
<text class="p" x="702" y="1576.4">(</text><text class="p" x="769.4" y="1576.4">)</text><text class="p" x="1059.4" y="1641.4">(</text><text class="p" x="1125.7" y="1641.4">)</text>
<g class="a"><use href="#r" x="753.5" y="1571"/><use href="#r" x="881.5" y="1571"/><use href="#r" x="1012.4" y="1571"/><use href="#d" x="784.7" y="1605"/><use href="#d" x="979" y="1605"/><use href="#d" x="1043.1" y="1605"/><use href="#r" x="817.5" y="1636"/><use href="#r" x="881.5" y="1636"/><use href="#r" x="948" y="1636"/><use href="#r" x="1012.4" y="1636"/><use href="#r" x="1076.5" y="1636"/></g>
</g>
</svg>
